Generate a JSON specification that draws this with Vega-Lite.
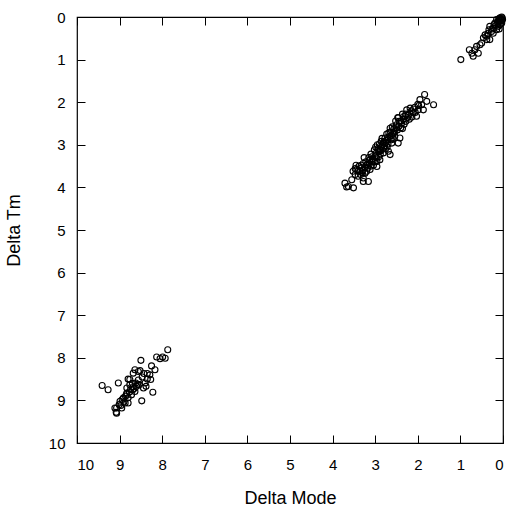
{
  "$schema": "https://vega.github.io/schema/vega-lite/v6.json",
  "autosize": {"type": "none"},
  "padding": {"left": 77, "top": 17, "right": 4, "bottom": 64},
  "width": 426,
  "height": 426,
  "background": "white",
  "config": {
    "view": {"stroke": "black", "strokeWidth": 1.2},
    "axis": {
      "domain": false,
      "grid": false,
      "tickColor": "black",
      "tickWidth": 1,
      "tickSize": -8,
      "labelFont": "Liberation Sans",
      "labelFontSize": 15,
      "labelColor": "black",
      "titleFont": "Liberation Sans",
      "titleFontSize": 18,
      "titleFontWeight": "normal",
      "titleColor": "black"
    }
  },
  "data": {
    "values": [
      {"mode": 0.99, "tm": 1.00}, {"mode": 0.73, "tm": 0.85}, {"mode": 0.79, "tm": 0.77}, {"mode": 0.66, "tm": 0.77},
      {"mode": 0.70, "tm": 0.92}, {"mode": 0.58, "tm": 0.85}, {"mode": 0.62, "tm": 0.69}, {"mode": 0.50, "tm": 0.61},
      {"mode": 0.54, "tm": 0.65}, {"mode": 0.46, "tm": 0.49}, {"mode": 0.38, "tm": 0.53}, {"mode": 0.31, "tm": 0.53},
      {"mode": 0.42, "tm": 0.42}, {"mode": 0.38, "tm": 0.45}, {"mode": 0.35, "tm": 0.38}, {"mode": 0.27, "tm": 0.34},
      {"mode": 0.23, "tm": 0.38}, {"mode": 0.31, "tm": 0.22}, {"mode": 0.23, "tm": 0.26}, {"mode": 0.15, "tm": 0.30},
      {"mode": 0.09, "tm": 0.28}, {"mode": 0.19, "tm": 0.14}, {"mode": 0.11, "tm": 0.22}, {"mode": 0.07, "tm": 0.18},
      {"mode": 0.11, "tm": 0.10}, {"mode": 0.15, "tm": 0.06}, {"mode": 0.03, "tm": 0.14}, {"mode": 0.07, "tm": 0.02},
      {"mode": 0.03, "tm": 0.00}, {"mode": 0.01, "tm": 0.06}, {"mode": 0.05, "tm": 0.05}, {"mode": 0.09, "tm": 0.08},
      {"mode": 0.13, "tm": 0.12}, {"mode": 0.02, "tm": 0.02}, {"mode": 0.06, "tm": 0.10}, {"mode": 0.17, "tm": 0.20},
      {"mode": 0.21, "tm": 0.18}, {"mode": 0.10, "tm": 0.04}, {"mode": 0.04, "tm": 0.08}, {"mode": 0.12, "tm": 0.16},
      {"mode": 0.26, "tm": 0.28}, {"mode": 0.33, "tm": 0.30},

      {"mode": 3.71, "tm": 3.90}, {"mode": 3.63, "tm": 3.98}, {"mode": 3.51, "tm": 4.01}, {"mode": 3.55, "tm": 3.82},
      {"mode": 3.47, "tm": 3.70}, {"mode": 3.40, "tm": 3.74}, {"mode": 3.28, "tm": 3.86}, {"mode": 3.16, "tm": 3.86},
      {"mode": 3.43, "tm": 3.58}, {"mode": 3.32, "tm": 3.54}, {"mode": 3.24, "tm": 3.67}, {"mode": 3.36, "tm": 3.62},
      {"mode": 3.20, "tm": 3.47}, {"mode": 3.12, "tm": 3.58}, {"mode": 3.28, "tm": 3.44}, {"mode": 3.38, "tm": 3.50},
      {"mode": 3.30, "tm": 3.60}, {"mode": 3.18, "tm": 3.55}, {"mode": 3.08, "tm": 3.39}, {"mode": 3.14, "tm": 3.45},
      {"mode": 3.22, "tm": 3.40}, {"mode": 3.04, "tm": 3.48}, {"mode": 2.96, "tm": 3.51}, {"mode": 2.96, "tm": 3.39},
      {"mode": 2.89, "tm": 3.35}, {"mode": 3.00, "tm": 3.27}, {"mode": 3.06, "tm": 3.33}, {"mode": 2.92, "tm": 3.28},
      {"mode": 2.98, "tm": 3.20}, {"mode": 2.89, "tm": 3.12}, {"mode": 2.85, "tm": 3.05}, {"mode": 2.93, "tm": 3.08},
      {"mode": 2.81, "tm": 3.19}, {"mode": 2.81, "tm": 2.96}, {"mode": 2.77, "tm": 2.84}, {"mode": 2.86, "tm": 2.92},
      {"mode": 2.90, "tm": 2.98}, {"mode": 2.75, "tm": 2.95}, {"mode": 2.72, "tm": 3.05}, {"mode": 2.69, "tm": 3.15},
      {"mode": 2.65, "tm": 3.23}, {"mode": 2.61, "tm": 2.96}, {"mode": 2.78, "tm": 3.02}, {"mode": 2.70, "tm": 2.88},
      {"mode": 2.66, "tm": 2.80}, {"mode": 2.73, "tm": 2.75}, {"mode": 2.64, "tm": 2.70}, {"mode": 2.58, "tm": 2.86},
      {"mode": 2.54, "tm": 2.69}, {"mode": 2.46, "tm": 2.96}, {"mode": 2.42, "tm": 2.84}, {"mode": 2.65, "tm": 2.61},
      {"mode": 2.60, "tm": 2.58}, {"mode": 2.50, "tm": 2.53}, {"mode": 2.56, "tm": 2.62}, {"mode": 2.48, "tm": 2.65},
      {"mode": 2.46, "tm": 2.37}, {"mode": 2.38, "tm": 2.49}, {"mode": 2.44, "tm": 2.45}, {"mode": 2.52, "tm": 2.44},
      {"mode": 2.40, "tm": 2.60}, {"mode": 2.30, "tm": 2.33}, {"mode": 2.34, "tm": 2.40}, {"mode": 2.36, "tm": 2.28},
      {"mode": 2.26, "tm": 2.18}, {"mode": 2.28, "tm": 2.45}, {"mode": 2.18, "tm": 2.14}, {"mode": 2.22, "tm": 2.30},
      {"mode": 2.11, "tm": 2.25}, {"mode": 2.15, "tm": 2.20}, {"mode": 2.03, "tm": 2.33}, {"mode": 2.07, "tm": 2.12},
      {"mode": 1.99, "tm": 2.18}, {"mode": 2.00, "tm": 2.05}, {"mode": 1.91, "tm": 2.06}, {"mode": 1.95, "tm": 1.94},
      {"mode": 1.87, "tm": 2.18}, {"mode": 1.84, "tm": 1.82}, {"mode": 1.79, "tm": 1.98}, {"mode": 1.63, "tm": 2.06},
      {"mode": 2.20, "tm": 2.40}, {"mode": 2.32, "tm": 2.52}, {"mode": 2.14, "tm": 2.35}, {"mode": 2.58, "tm": 2.75},
      {"mode": 2.68, "tm": 2.72}, {"mode": 2.84, "tm": 2.85}, {"mode": 2.95, "tm": 3.00}, {"mode": 3.02, "tm": 3.12},
      {"mode": 3.10, "tm": 3.22}, {"mode": 3.26, "tm": 3.30}, {"mode": 3.45, "tm": 3.48}, {"mode": 3.52, "tm": 3.62},
      {"mode": 2.36, "tm": 2.62}, {"mode": 2.54, "tm": 2.80}, {"mode": 2.76, "tm": 3.10}, {"mode": 3.00, "tm": 3.40},
      {"mode": 3.34, "tm": 3.70}, {"mode": 3.67, "tm": 3.99}, {"mode": 3.28, "tm": 3.78}, {"mode": 2.47, "tm": 2.36},
      {"mode": 2.88, "tm": 3.22}, {"mode": 3.10, "tm": 3.50}, {"mode": 2.80, "tm": 3.08}, {"mode": 2.70, "tm": 2.98},
      {"mode": 2.74, "tm": 2.90}, {"mode": 2.83, "tm": 3.00}, {"mode": 2.87, "tm": 3.14}, {"mode": 2.79, "tm": 2.92},
      {"mode": 2.91, "tm": 3.16}, {"mode": 2.97, "tm": 3.30}, {"mode": 3.05, "tm": 3.40}, {"mode": 3.13, "tm": 3.36},
      {"mode": 3.18, "tm": 3.46}, {"mode": 3.24, "tm": 3.52}, {"mode": 3.33, "tm": 3.48}, {"mode": 3.40, "tm": 3.62},
      {"mode": 3.47, "tm": 3.56}, {"mode": 3.30, "tm": 3.66}, {"mode": 3.20, "tm": 3.62}, {"mode": 2.62, "tm": 2.78},
      {"mode": 2.56, "tm": 2.72}, {"mode": 2.50, "tm": 2.60}, {"mode": 2.44, "tm": 2.56}, {"mode": 2.40, "tm": 2.44},
      {"mode": 2.34, "tm": 2.34}, {"mode": 2.28, "tm": 2.28}, {"mode": 2.24, "tm": 2.36}, {"mode": 2.10, "tm": 2.16},
      {"mode": 2.06, "tm": 2.24}, {"mode": 1.98, "tm": 2.08}, {"mode": 2.62, "tm": 2.88}, {"mode": 2.94, "tm": 3.12},
      {"mode": 2.71, "tm": 2.83}, {"mode": 2.99, "tm": 3.05}, {"mode": 3.08, "tm": 3.28}, {"mode": 3.15, "tm": 3.30},

      {"mode": 7.87, "tm": 7.81}, {"mode": 7.99, "tm": 7.98}, {"mode": 8.05, "tm": 8.02}, {"mode": 8.13, "tm": 7.98},
      {"mode": 8.50, "tm": 8.06}, {"mode": 8.25, "tm": 8.19}, {"mode": 8.29, "tm": 8.40}, {"mode": 8.56, "tm": 8.32},
      {"mode": 8.68, "tm": 8.36}, {"mode": 8.43, "tm": 8.37}, {"mode": 9.41, "tm": 8.65}, {"mode": 9.27, "tm": 8.75},
      {"mode": 9.03, "tm": 8.59}, {"mode": 8.76, "tm": 8.51}, {"mode": 8.54, "tm": 8.63}, {"mode": 8.40, "tm": 8.59},
      {"mode": 8.35, "tm": 8.50}, {"mode": 8.22, "tm": 8.81}, {"mode": 8.48, "tm": 9.01}, {"mode": 8.69, "tm": 8.75},
      {"mode": 8.83, "tm": 8.83}, {"mode": 8.91, "tm": 8.94}, {"mode": 8.99, "tm": 9.02}, {"mode": 9.07, "tm": 9.18},
      {"mode": 9.08, "tm": 9.28}, {"mode": 8.95, "tm": 9.18}, {"mode": 9.01, "tm": 9.10}, {"mode": 8.87, "tm": 9.06},
      {"mode": 8.80, "tm": 8.94}, {"mode": 8.72, "tm": 8.87}, {"mode": 8.64, "tm": 8.79}, {"mode": 8.60, "tm": 8.67},
      {"mode": 8.44, "tm": 8.71}, {"mode": 8.76, "tm": 8.63}, {"mode": 8.83, "tm": 8.71}, {"mode": 8.64, "tm": 8.28},
      {"mode": 8.52, "tm": 8.30}, {"mode": 8.35, "tm": 8.37}, {"mode": 8.17, "tm": 8.28}, {"mode": 8.27, "tm": 8.51},
      {"mode": 8.38, "tm": 8.67}, {"mode": 8.80, "tm": 8.50}, {"mode": 8.62, "tm": 8.59}, {"mode": 9.11, "tm": 9.18},
      {"mode": 9.07, "tm": 9.30}, {"mode": 8.80, "tm": 9.06}, {"mode": 7.93, "tm": 8.01}, {"mode": 8.56, "tm": 8.52},
      {"mode": 8.70, "tm": 8.60}, {"mode": 8.86, "tm": 8.90}, {"mode": 8.94, "tm": 8.98}, {"mode": 8.68, "tm": 8.68},
      {"mode": 8.77, "tm": 8.80}, {"mode": 8.84, "tm": 8.86}, {"mode": 8.74, "tm": 8.74}, {"mode": 8.90, "tm": 9.04},
      {"mode": 8.66, "tm": 8.72}, {"mode": 8.58, "tm": 8.62}, {"mode": 8.97, "tm": 9.12}, {"mode": 8.47, "tm": 8.45}
    ]
  },
  "layer": [
    {
      "mark": {"type": "point", "shape": "circle", "filled": false, "size": 36, "stroke": "black", "strokeWidth": 1.1, "opacity": 1},
      "encoding": {
        "x": {
          "field": "mode", "type": "quantitative",
          "scale": {"domain": [0, 10], "reverse": true, "nice": false, "zero": false},
          "axis": {"orient": "bottom", "title": "Delta Mode", "values": [0,1,2,3,4,5,6,7,8,9,10], "labelPadding": 22, "titlePadding": 17}
        },
        "y": {
          "field": "tm", "type": "quantitative",
          "scale": {"domain": [0, 10], "reverse": true, "nice": false, "zero": false},
          "axis": {"orient": "left", "title": "Delta Tm", "values": [0,1,2,3,4,5,6,7,8,9,10], "labelPadding": 20, "titlePadding": 25}
        }
      }
    },
    {
      "mark": {"type": "point", "opacity": 0},
      "encoding": {
        "x": {
          "field": "mode", "type": "quantitative",
          "axis": {"orient": "top", "title": null, "labels": false, "values": [0,1,2,3,4,5,6,7,8,9,10]}
        },
        "y": {
          "field": "tm", "type": "quantitative",
          "axis": {"orient": "right", "title": null, "labels": false, "values": [0,1,2,3,4,5,6,7,8,9,10]}
        }
      }
    }
  ],
  "resolve": {"axis": {"x": "independent", "y": "independent"}}
}
